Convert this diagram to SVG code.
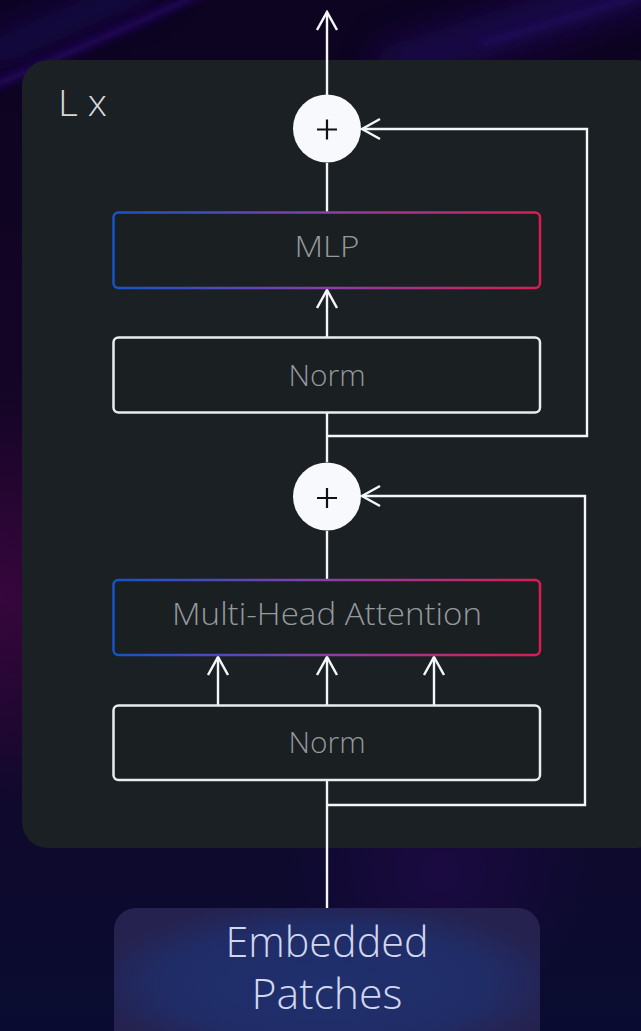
<svg xmlns="http://www.w3.org/2000/svg" width="641" height="1031" viewBox="0 0 641 1031">
  <defs>
    <linearGradient id="bg" x1="0" y1="0" x2="0" y2="1">
      <stop offset="0" stop-color="#0c0420"/>
      <stop offset="0.5" stop-color="#170528"/>
      <stop offset="1" stop-color="#090c30"/>
    </linearGradient>
    <radialGradient id="leftGlow" cx="0" cy="600" r="200" gradientUnits="userSpaceOnUse">
      <stop offset="0" stop-color="#3a063e" stop-opacity="0.9"/>
      <stop offset="1" stop-color="#3a063e" stop-opacity="0"/>
    </radialGradient>
    <radialGradient id="botGlow" cx="440" cy="870" r="150" gradientUnits="userSpaceOnUse">
      <stop offset="0" stop-color="#1e0a46" stop-opacity="0.8"/>
      <stop offset="1" stop-color="#1e0a46" stop-opacity="0"/>
    </radialGradient>
    <radialGradient id="epFill" cx="0.5" cy="0.5" r="0.55">
      <stop offset="0" stop-color="#1f306e"/>
      <stop offset="0.7" stop-color="#202c66"/>
      <stop offset="1" stop-color="#25224f"/>
    </radialGradient>
    <linearGradient id="edge" x1="0" y1="0" x2="1" y2="0">
      <stop offset="0" stop-color="#1554c8"/>
      <stop offset="0.5" stop-color="#8a3fa8"/>
      <stop offset="1" stop-color="#d81e50"/>
    </linearGradient>
    <filter id="blur" x="-50%" y="-50%" width="200%" height="200%">
      <feGaussianBlur stdDeviation="4"/>
    </filter>
    <filter id="blur2" x="-50%" y="-50%" width="200%" height="200%">
      <feGaussianBlur stdDeviation="18"/>
    </filter>
    <marker id="arr" viewBox="-21 -12 23 24" refX="0" refY="0" markerWidth="23" markerHeight="24" markerUnits="userSpaceOnUse" orient="auto">
      <path d="M-18,-10 L0,0 L-18,10" fill="none" stroke="#f4f6f8" stroke-width="2.5"/>
    </marker>
    <style>
      .conn { fill: none; stroke: #f4f6f8; stroke-width: 2.4; }
      .box { fill: #1a1f22; stroke-width: 2.5; }
      .plain { stroke: #e9edf0; }
      .grad { stroke: url(#edge); }
      .lbl { font-family: "Open Sans", "Liberation Sans", sans-serif; font-weight: 300; fill: #95999d; text-anchor: middle; }
      .ep { font-family: "Open Sans", "Liberation Sans", sans-serif; font-weight: 300; fill: #d2d6ee; text-anchor: middle; font-size: 42px; }
      .add { fill: #f8f9fc; }
      .plus { stroke: #111; stroke-width: 2.2; fill: none; }
    </style>
  </defs>

  <!-- background -->
  <rect x="0" y="0" width="641" height="1031" fill="url(#bg)"/>
  <rect x="0" y="350" width="220" height="500" fill="url(#leftGlow)"/>
  <rect x="250" y="720" width="391" height="311" fill="url(#botGlow)"/>
  <path d="M-20,92 L210,-10" stroke="#4316a8" stroke-width="4" opacity="0.8" filter="url(#blur)"/>
  <path d="M-20,60 L160,-20" stroke="#24097a" stroke-width="30" opacity="0.5" filter="url(#blur2)"/>
  <path d="M380,70 L660,-20" stroke="#2a0e80" stroke-width="40" opacity="0.5" filter="url(#blur2)"/>
  <path d="M480,45 L660,-10" stroke="#3a14a0" stroke-width="4" opacity="0.4" filter="url(#blur)"/>

  <!-- panel -->
  <g id="panel">
    <rect x="22" y="60" width="640" height="788" rx="26" fill="#1a2023"/>
    <text x="58" y="116" font-family="'Open Sans', 'Liberation Sans', sans-serif" font-weight="300" font-size="36" fill="#d6d8da" textLength="49" lengthAdjust="spacingAndGlyphs">L x</text>
  </g>

  <!-- connectors -->
  <g id="connectors">
    <path class="conn" d="M327,95 L327,12" marker-end="url(#arr)"/>
    <path class="conn" d="M327,163 L327,212"/>
    <path class="conn" d="M327,337 L327,290" marker-end="url(#arr)"/>
    <path class="conn" d="M327,462 L327,412"/>
    <path class="conn" d="M327,436 L587,436 L587,129 L362,129" marker-end="url(#arr)"/>
    <path class="conn" d="M327,579 L327,531"/>
    <path class="conn" d="M218,705 L218,657" marker-end="url(#arr)"/>
    <path class="conn" d="M327,705 L327,657" marker-end="url(#arr)"/>
    <path class="conn" d="M434,705 L434,657" marker-end="url(#arr)"/>
    <path class="conn" d="M327,908 L327,780"/>
    <path class="conn" d="M327,805 L585,805 L585,496 L362,496" marker-end="url(#arr)"/>
  </g>

  <g id="add1">
    <circle class="add" cx="327" cy="128.5" r="34"/>
    <path class="plus" d="M317,129.5 L337,129.5 M327,119.5 L327,139.5"/>
  </g>
  <g id="mlp">
    <rect class="box grad" x="113.5" y="212.5" width="426.5" height="75.5" rx="5"/>
    <text class="lbl" x="327" y="257" font-size="30" textLength="65" lengthAdjust="spacingAndGlyphs">MLP</text>
  </g>
  <g id="norm1">
    <rect class="box plain" x="113.5" y="337.5" width="426.5" height="75" rx="5"/>
    <text class="lbl" x="327" y="386" font-size="30" textLength="77" lengthAdjust="spacingAndGlyphs">Norm</text>
  </g>
  <g id="add2">
    <circle class="add" cx="327" cy="496.5" r="34"/>
    <path class="plus" d="M317,498 L337,498 M327,488 L327,508"/>
  </g>
  <g id="mha">
    <rect class="box grad" x="113.5" y="580" width="426.5" height="75" rx="5"/>
    <text class="lbl" x="327" y="625" font-size="31" textLength="310" lengthAdjust="spacingAndGlyphs">Multi-Head Attention</text>
  </g>
  <g id="norm2">
    <rect class="box plain" x="113.5" y="705.5" width="426.5" height="74.5" rx="5"/>
    <text class="lbl" x="327" y="753" font-size="30" textLength="77" lengthAdjust="spacingAndGlyphs">Norm</text>
  </g>
  <g id="embedded">
    <rect x="114" y="908" width="426" height="150" rx="22" fill="url(#epFill)"/>
    <text class="ep" x="327" y="957" textLength="203" lengthAdjust="spacingAndGlyphs">Embedded</text>
    <text class="ep" x="327" y="1009" textLength="151" lengthAdjust="spacingAndGlyphs">Patches</text>
  </g>
</svg>
